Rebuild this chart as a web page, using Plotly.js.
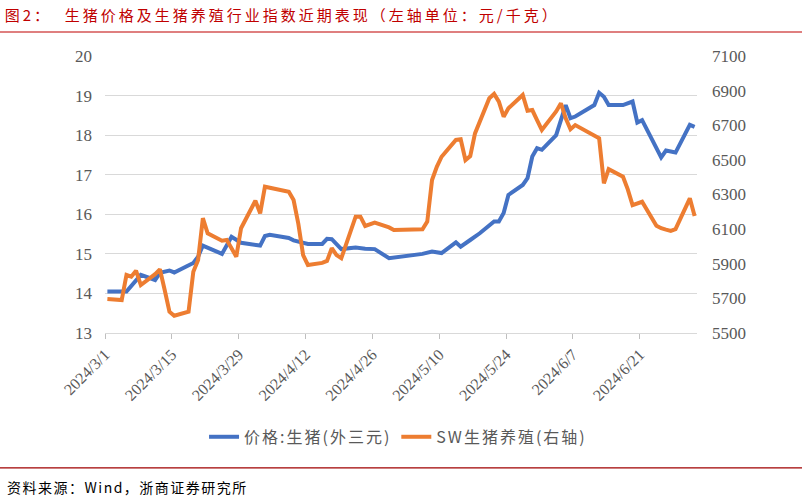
<!DOCTYPE html>
<html>
<head>
<meta charset="utf-8">
<script src="https://cdn.plot.ly/plotly-3.0.1.min.js"></script>
<style>
html,body{margin:0;padding:0;background:#fff;}
#chart{width:802px;height:500px;}
</style>
</head>
<body>
<div id="chart"></div>
<script>
// ---- data ----
const priceDates = ["2024-03-01","2024-03-05","2024-03-08","2024-03-11","2024-03-12","2024-03-14","2024-03-15","2024-03-19","2024-03-20","2024-03-21","2024-03-25","2024-03-27","2024-03-29","2024-04-01","2024-04-02","2024-04-03","2024-04-04","2024-04-08","2024-04-09","2024-04-12","2024-04-15","2024-04-16","2024-04-17","2024-04-19","2024-04-22","2024-04-24","2024-04-26","2024-04-29","2024-05-02","2024-05-06","2024-05-08","2024-05-10","2024-05-13","2024-05-14","2024-05-16","2024-05-18","2024-05-21","2024-05-22","2024-05-23","2024-05-24","2024-05-27","2024-05-28","2024-05-29","2024-05-30","2024-05-31","2024-06-02","2024-06-03","2024-06-05","2024-06-06","2024-06-07","2024-06-11","2024-06-12","2024-06-13","2024-06-14","2024-06-17","2024-06-19","2024-06-20","2024-06-21","2024-06-25","2024-06-26","2024-06-28","2024-07-01","2024-07-02"];
const priceValues = [14.05,14.05,14.47,14.34,14.52,14.58,14.53,14.77,14.93,15.21,15.00,15.43,15.28,15.23,15.21,15.45,15.48,15.40,15.34,15.25,15.25,15.38,15.37,15.12,15.16,15.13,15.12,14.89,14.93,15.00,15.06,15.02,15.29,15.18,15.35,15.52,15.82,15.82,16.03,16.49,16.74,16.91,17.46,17.67,17.63,17.88,18.00,18.76,18.43,18.47,18.76,19.07,18.97,18.76,18.76,18.85,18.32,18.38,17.44,17.61,17.56,18.26,18.21];

const indexDates = ["2024-03-01","2024-03-04","2024-03-05","2024-03-06","2024-03-07","2024-03-08","2024-03-11","2024-03-12","2024-03-13","2024-03-14","2024-03-15","2024-03-18","2024-03-19","2024-03-20","2024-03-21","2024-03-22","2024-03-25","2024-03-26","2024-03-27","2024-03-28","2024-03-29","2024-04-01","2024-04-02","2024-04-03","2024-04-08","2024-04-09","2024-04-10","2024-04-11","2024-04-12","2024-04-15","2024-04-16","2024-04-17","2024-04-18","2024-04-19","2024-04-22","2024-04-23","2024-04-24","2024-04-25","2024-04-26","2024-04-29","2024-04-30","2024-05-06","2024-05-07","2024-05-08","2024-05-09","2024-05-10","2024-05-13","2024-05-14","2024-05-15","2024-05-16","2024-05-17","2024-05-20","2024-05-21","2024-05-22","2024-05-23","2024-05-24","2024-05-27","2024-05-28","2024-05-29","2024-05-30","2024-05-31","2024-06-03","2024-06-04","2024-06-05","2024-06-06","2024-06-07","2024-06-11","2024-06-12","2024-06-13","2024-06-14","2024-06-17","2024-06-18","2024-06-19","2024-06-20","2024-06-21","2024-06-24","2024-06-25","2024-06-26","2024-06-27","2024-06-28","2024-07-01","2024-07-02"];
const indexValues = [5696,5690,5835,5825,5860,5777,5840,5868,5748,5623,5600,5623,5854,5922,6163,6076,6033,6037,5990,5941,6105,6264,6191,6345,6316,6268,6130,5950,5893,5905,5916,5990,5950,5932,6172,6172,6118,6128,6137,6110,6095,6099,6143,6384,6460,6518,6615,6619,6499,6522,6653,6856,6881,6836,6749,6798,6875,6784,6788,6730,6673,6780,6827,6740,6677,6701,6640,6625,6365,6446,6403,6330,6239,6250,6258,6120,6105,6097,6090,6100,6278,6176];

const xTickVals = ["2024-03-01","2024-03-15","2024-03-29","2024-04-12","2024-04-26","2024-05-10","2024-05-24","2024-06-07","2024-06-21"];
const xTickText = ["2024/3/1","2024/3/15","2024/3/29","2024/4/12","2024/4/26","2024/5/10","2024/5/24","2024/6/7","2024/6/21"];

const seriesNames = ["价格:生猪(外三元)","SW生猪养殖(右轴)"];
const titleText = "图2：  生猪价格及生猪养殖行业指数近期表现（左轴单位：元/千克）";
const sourceText = "资料来源：Wind，浙商证券研究所";

// ---- chart ----
const CJK = '"Noto Sans CJK SC", "Noto Sans", sans-serif';
const SERIF = '"Liberation Serif", "Times New Roman", serif';
const tickGray = '#595959';
const spaced = (t, px) => '<span style="letter-spacing:' + px + 'px">' + t + '</span>';

const traces = [
  {
    x: priceDates, y: priceValues, name: spaced(seriesNames[0], 2), type: 'scatter', mode: 'lines',
    xperiod: 86400000, xperiodalignment: 'middle',
    line: {color: '#4472C4', width: 4}, yaxis: 'y'
  },
  {
    x: indexDates, y: indexValues, name: spaced(seriesNames[1], 2), type: 'scatter', mode: 'lines',
    xperiod: 86400000, xperiodalignment: 'middle',
    line: {color: '#ED7D31', width: 4}, yaxis: 'y2'
  }
];

const layout = {
  width: 802, height: 500,
  paper_bgcolor: '#ffffff', plot_bgcolor: '#ffffff',
  margin: {l: 105, r: 105, t: 56, b: 167, pad: 0},
  showlegend: true,
  title: {
    text: spaced(titleText, 3),
    font: {family: CJK, size: 15, color: '#C00000'},
    x: 0.006, xref: 'container', xanchor: 'left',
    y: 0.968, yref: 'container', yanchor: 'middle'
  },
  xaxis: {
    type: 'date',
    range: ['2024-03-01', '2024-07-03'],
    tickmode: 'array', tickvals: xTickVals, ticktext: xTickText,
    tickangle: -45,
    tickfont: {family: SERIF, size: 16, color: tickGray},
    ticks: 'outside', ticklen: 5, tickcolor: '#bfbfbf', tickwidth: 1,
    showline: true, linecolor: '#d9d9d9', linewidth: 1,
    showgrid: false, zeroline: false
  },
  yaxis: {
    range: [13, 20], dtick: 1, tick0: 13,
    tickfont: {family: SERIF, size: 17, color: tickGray},
    showgrid: true, gridcolor: '#d9d9d9', gridwidth: 1,
    zeroline: false, showline: false, ticks: '',
    ticklabelstandoff: 12
  },
  yaxis2: {
    range: [5500, 7100], dtick: 200, tick0: 5500,
    overlaying: 'y', side: 'right',
    tickfont: {family: SERIF, size: 17, color: tickGray},
    showgrid: false, zeroline: false, showline: false, ticks: '',
    ticklabelstandoff: 14
  },
  legend: {
    orientation: 'h', x: 0.495, xanchor: 'center', y: -0.375, yanchor: 'middle',
    font: {family: CJK, size: 16, color: tickGray},
    bgcolor: 'rgba(0,0,0,0)'
  },
  shapes: [
    {type: 'line', xref: 'paper', yref: 'paper', x0: -0.18, x1: 1.18, y0: 1.0866, y1: 1.0866,
     line: {color: '#C00000', width: 1.2}},
    {type: 'line', xref: 'paper', yref: 'paper', x0: -0.18, x1: 1.18, y0: -0.487, y1: -0.487,
     line: {color: '#A00000', width: 1.2}}
  ],
  annotations: [
    {text: spaced(sourceText, 1.5), xref: 'paper', yref: 'paper', x: -0.169, y: -0.555,
     xanchor: 'left', yanchor: 'middle', showarrow: false,
     font: {family: CJK, size: 14, color: '#000000'}}
  ]
};

Plotly.newPlot('chart', traces, layout, {displayModeBar: false, staticPlot: true});
</script>
</body>
</html>
